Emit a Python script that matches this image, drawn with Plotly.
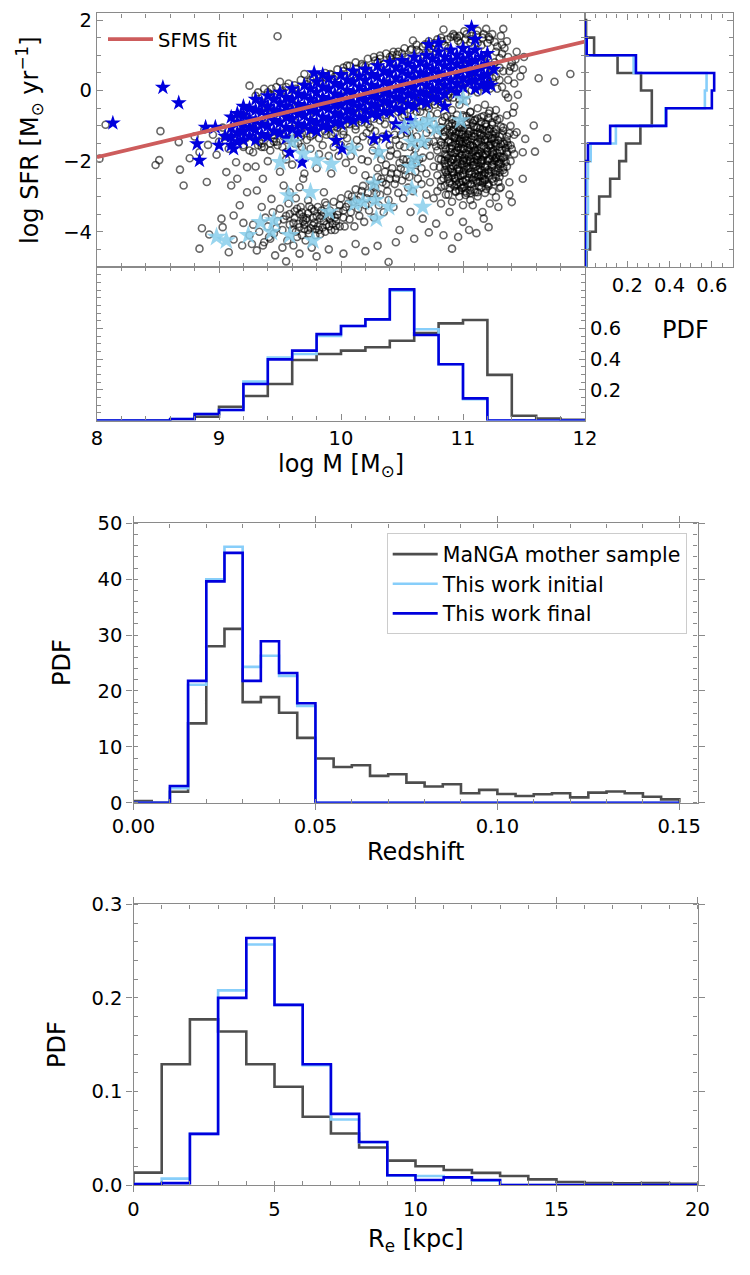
import plotly.graph_objects as go

# ======================= DATA =======================
# --- log SFR histogram (right panel), 0.5 dex bins from -5 to 2 ---
sfr_edges = [-5.0, -4.5, -4.0, -3.5, -3.0, -2.5, -2.0, -1.5, -1.0, -0.5, 0.0, 0.5, 1.0, 1.5, 2.0]
sfr_pdf_mother = [0.008, 0.024, 0.051, 0.067, 0.119, 0.162, 0.194, 0.262, 0.316, 0.316, 0.265, 0.154, 0.043, 0.005]
sfr_pdf_initial = [0.005, 0.011, 0.008, 0.014, 0.011, 0.014, 0.027, 0.146, 0.380, 0.567, 0.575, 0.230, 0.008, 0.0]
sfr_pdf_final = [0.0, 0.0, 0.0, 0.0, 0.0, 0.0, 0.014, 0.119, 0.384, 0.600, 0.611, 0.241, 0.008, 0.0]

# --- log M histogram, 0.2 dex bins from 8 to 12 ---
mass_edges = [8.0, 8.2, 8.4, 8.6, 8.8, 9.0, 9.2, 9.4, 9.6, 9.8, 10.0,
              10.2, 10.4, 10.6, 10.8, 11.0, 11.2, 11.4, 11.6, 11.8, 12.0]
mass_pdf_mother = [0.0, 0.0, 0.002, 0.008, 0.025, 0.090, 0.160, 0.238, 0.394, 0.433,
                   0.455, 0.477, 0.520, 0.570, 0.633, 0.655, 0.297, 0.031, 0.012, 0.005]
mass_pdf_initial = [0.0, 0.0, 0.0, 0.010, 0.042, 0.068, 0.253, 0.410, 0.433, 0.550,
                    0.616, 0.659, 0.846, 0.594, 0.366, 0.138, 0.0, 0.0, 0.0, 0.0]
mass_pdf_final = [0.0, 0.0, 0.0, 0.010, 0.042, 0.068, 0.238, 0.398, 0.455, 0.563,
                  0.616, 0.659, 0.854, 0.557, 0.366, 0.144, 0.0, 0.0, 0.0, 0.0]

# --- redshift histogram, 0.005 bins from 0 to 0.15 ---
z_edges = [0.000, 0.005, 0.010, 0.015, 0.020, 0.025, 0.030, 0.035, 0.040, 0.045, 0.050,
           0.055, 0.060, 0.065, 0.070, 0.075, 0.080, 0.085, 0.090, 0.095, 0.100,
           0.105, 0.110, 0.115, 0.120, 0.125, 0.130, 0.135, 0.140, 0.145, 0.150]
z_pdf_mother = [0.3, 0.0, 1.97, 14.2, 28.0, 31.1, 18.0, 18.9, 16.1, 11.6,
                7.9, 6.4, 6.7, 4.8, 5.1, 3.6, 2.9, 3.3, 1.7, 2.3,
                1.55, 1.2, 1.5, 1.7, 0.95, 1.8, 2.0, 1.7, 1.07, 0.6]
z_pdf_initial = [0.0, 0.0, 2.6, 21.1, 40.0, 45.8, 24.3, 26.3, 22.7, 17.3,
                 0, 0, 0, 0, 0, 0, 0, 0, 0, 0, 0, 0, 0, 0, 0, 0, 0, 0, 0, 0]
z_pdf_final = [0.0, 0.0, 3.0, 21.8, 39.6, 44.7, 21.8, 28.9, 23.2, 17.8,
               0, 0, 0, 0, 0, 0, 0, 0, 0, 0, 0, 0, 0, 0, 0, 0, 0, 0, 0, 0]

# --- effective radius histogram, 1 kpc bins from 0 to 20 ---
re_edges = [0, 1, 2, 3, 4, 5, 6, 7, 8, 9, 10, 11, 12, 13, 14, 15, 16, 17, 18, 19, 20]
re_pdf_mother = [0.0132, 0.129, 0.177, 0.164, 0.129, 0.105, 0.073, 0.055, 0.040, 0.026,
                 0.020, 0.016, 0.013, 0.0096, 0.006, 0.0032, 0.002, 0.0018, 0.002, 0.0014]
re_pdf_initial = [0.001, 0.0068, 0.0546, 0.208, 0.257, 0.1925, 0.128, 0.070, 0.0457, 0.010,
                  0.0096, 0.008, 0.0046, 0.0, 0.0, 0.0, 0.0, 0.0, 0.0, 0.0]
re_pdf_final = [0.001, 0.002, 0.0546, 0.200, 0.264, 0.1925, 0.129, 0.076, 0.046, 0.0104,
                0.0054, 0.0082, 0.0054, 0.0, 0.0, 0.0, 0.0, 0.0, 0.0, 0.0]

# --- SFMS fit (end points) ---
sfms_logm = [8.0, 12.0]
sfms_logsfr = [-1.89, 1.39]

# --- MaNGA mother sample (log M, log SFR) ---
mother_sparse = [
    (8.07, -0.97), (8.02, -1.93), (8.52, -1.15), (8.48, -2.11), (8.51, -1.97), (8.68, -2.24), (8.71, -2.69),
    (8.76, -1.92), (8.67, -1.46), (8.84, -1.75), (8.90, -2.59), (8.91, -1.54), (8.98, -1.82), (9.06, -2.31),
    (9.10, -2.69), (9.14, -2.03), (9.23, -2.17), (9.25, 0.14), (9.43, 0.05), (9.50, 0.25), (9.35, -0.33),
    (9.70, 0.47), (9.48, 1.54), (11.88, 0.47), (11.75, 0.25), (11.62, 0.35), (11.49, 0.59), (11.58, -0.99),
    (11.69, -1.35), (11.59, -1.73), (11.49, -1.75), (11.44, -1.18), (11.41, -0.63), (11.45, -0.12),
    (11.51, -1.37), (11.33, 1.75), (11.31, 1.55), (11.19, 1.75), (10.84, 1.73), (10.95, 1.50), (10.59, 1.42),
    (10.43, 1.10), (10.32, 0.99), (10.25, 0.66), (10.05, 0.71), (9.91, 0.47), (10.39, -4.86), (10.91, -4.48),
    (10.96, -4.15), (11.11, -4.04), (11.21, -3.87), (11.17, -3.63), (11.29, -3.30), (11.40, -3.16),
    (11.38, -2.95), (11.27, -3.02), (11.49, -2.50), (11.38, -2.60), (11.30, -2.77), (8.86, -3.90),
    (8.92, -4.08), (8.84, -4.48), (9.02, -3.63), (9.03, -3.87), (9.12, -3.54), (9.17, -3.25), (9.20, -3.75),
    (9.12, -4.22), (9.08, -4.58), (9.19, -4.39), (9.27, -4.35), (9.31, -4.53), (9.36, -4.39), (9.42, -4.20),
    (9.46, -4.67), (9.55, -4.84), (9.66, -4.62), (9.61, -4.39), (9.50, -3.35), (9.43, -3.07), (9.36, -2.50),
    (9.31, -2.83), (9.23, -2.88), (9.15, -2.50), (9.53, -2.69), (9.58, -2.88), (9.66, -2.74), (9.69, -2.50),
    (9.73, -3.11), (9.86, -2.88), (9.20, -1.55), (9.05, -1.30), (10.67, -3.63), (10.78, -3.77), (10.57, -3.44),
    (10.89, -3.44), (11.00, -3.72), (11.08, -3.25), (11.16, -3.44), (11.22, -3.20), (10.72, -4.02),
    (10.60, -4.20), (10.48, -3.95), (10.45, -4.30), (10.84, -4.10), (11.05, -3.95), (10.30, -4.40),
    (10.20, -4.55), (10.12, -4.35), (10.02, -4.62), (9.90, -4.50), (9.80, -4.70), (9.76, -4.45),
]
mother_lower = [
    (9.62, -3.60), (9.65, -3.78), (9.68, -3.45), (9.70, -3.92), (9.72, -3.62), (9.74, -4.05), (9.76, -3.35),
    (9.78, -3.75), (9.80, -3.55), (9.82, -3.95), (9.84, -3.40), (9.86, -3.70), (9.88, -3.25), (9.90, -3.85),
    (9.92, -3.55), (9.94, -3.15), (9.96, -3.70), (9.98, -3.42), (10.00, -3.05), (10.02, -3.60), (10.04, -3.30),
    (10.06, -2.95), (10.08, -3.45), (10.10, -3.15), (10.12, -2.80), (10.14, -3.35), (10.16, -3.00),
    (10.18, -2.70), (10.20, -3.25), (10.22, -2.90), (10.24, -2.55), (10.26, -3.10), (10.28, -2.75),
    (10.30, -2.45), (10.32, -2.95), (10.34, -2.60), (10.36, -2.30), (10.38, -2.85), (10.40, -2.50),
    (10.42, -2.20), (10.44, -2.65), (10.46, -2.35), (10.48, -2.05), (10.50, -2.55), (10.52, -2.25),
    (10.54, -1.95), (10.56, -2.45), (10.58, -2.10), (10.60, -1.85), (9.60, -3.95), (9.64, -4.15),
    (9.67, -3.30), (9.71, -4.25), (9.75, -3.90), (9.79, -4.10), (9.83, -3.62), (9.87, -4.00), (9.91, -3.40),
    (9.95, -3.95), (9.99, -3.25), (10.03, -3.85), (10.07, -3.65), (10.11, -3.85), (10.15, -3.55),
    (10.19, -3.72), (10.23, -3.40), (10.27, -3.60), (10.31, -3.25), (10.35, -3.45), (10.39, -3.10),
    (10.43, -3.30), (10.47, -2.90), (10.51, -3.05), (10.55, -2.75), (10.59, -2.85), (10.63, -2.50),
    (10.66, -2.65), (9.55, -3.55), (9.58, -3.80), (9.52, -3.95), (9.48, -3.70), (9.45, -4.05), (9.40, -3.85),
    (9.38, -3.60), (9.33, -4.00), (9.28, -3.80), (9.25, -4.10), (9.35, -3.30), (9.44, -3.45), (9.57, -3.20),
    (9.63, -3.05), (9.69, -3.70), (9.73, -3.48), (9.77, -3.82), (9.81, -3.30), (9.85, -3.88), (9.89, -3.58),
    (9.93, -3.78), (9.97, -3.52),
    (9.61, -3.75), (9.66, -3.50), (9.70, -3.80), (9.73, -3.95), (9.77, -3.60), (9.81, -3.85), (9.84, -3.55),
    (9.88, -3.80), (9.92, -3.95), (9.95, -3.60), (9.99, -3.85), (10.02, -3.40), (10.06, -3.20), (10.09, -3.00),
    (10.13, -3.10), (10.17, -2.85), (10.21, -3.05), (10.25, -2.70), (10.29, -2.90), (10.33, -2.50),
    (10.37, -2.65), (10.41, -2.35), (10.45, -2.50), (10.49, -2.20), (10.53, -2.40), (10.57, -2.00),
    (10.61, -2.30), (10.64, -1.95), (9.64, -3.35), (9.58, -3.50), (9.53, -3.65), (9.47, -3.90), (9.41, -4.15),
    (9.37, -4.30), (9.56, -4.25), (9.52, -4.45), (9.63, -4.00), (9.68, -4.10),
    (9.71, -3.67), (9.79, -3.93), (9.74, -3.28), (9.86, -3.47), (9.83, -4.07), (9.66, -3.87), (9.91, -3.63),
    (9.78, -3.41), (9.69, -3.58), (9.96, -3.83), (9.87, -3.17), (9.62, -3.42),
]
mother_valley = [
    (9.95, -1.20), (10.00, -1.55), (10.05, -1.35), (10.08, -1.85), (10.12, -1.10), (10.15, -1.60),
    (10.18, -1.30), (10.22, -2.00), (10.25, -1.45), (10.28, -1.15), (10.31, -1.75), (10.34, -1.30),
    (10.37, -2.10), (10.40, -1.55), (10.43, -1.00), (10.46, -1.80), (10.49, -1.25), (10.52, -1.60),
    (10.55, -0.85), (10.58, -1.35), (10.61, -1.65), (10.64, -1.05), (10.67, -1.90), (10.70, -1.20),
    (10.73, -0.70), (10.10, -2.25), (10.20, -2.40), (10.30, -2.20), (10.45, -1.40), (10.60, -0.95),
    (9.85, -1.55), (9.90, -1.85), (9.80, -2.20), (9.75, -1.65), (9.70, -2.35), (9.65, -1.50), (9.60, -2.10),
    (9.55, -1.75), (9.50, -2.30), (9.45, -1.45), (9.40, -2.00), (9.35, -1.60), (9.30, -2.15),
    (9.20, -1.60), (9.28, -1.75), (9.35, -1.50), (9.42, -1.70), (9.48, -1.55), (9.55, -1.95), (9.62, -1.35),
    (9.68, -1.60), (9.75, -1.30), (9.82, -1.80), (9.88, -1.25), (9.94, -1.60), (10.36, -0.95), (10.50, -0.75),
    (10.65, -0.60), (10.24, -1.05), (10.40, -1.85), (10.56, -1.15),
    (10.02, -1.25), (10.07, -1.60), (10.13, -1.40), (10.17, -1.95), (10.21, -1.20), (10.26, -1.70),
    (10.29, -1.40), (10.33, -1.95), (10.38, -1.25), (10.41, -1.70), (10.44, -1.25), (10.48, -1.55),
    (10.51, -1.95), (10.54, -1.20), (10.57, -1.60), (10.62, -1.30), (10.65, -1.50), (10.68, -0.85),
    (10.72, -1.45), (10.66, -2.20), (10.62, -2.05), (9.98, -1.85), (10.04, -2.05), (9.92, -2.35),
]
mother_ms = [
    (9.30, -0.15), (9.40, -0.05), (9.55, 0.10), (9.62, -0.10), (9.75, 0.30), (9.85, 0.20), (9.95, 0.40),
    (10.02, 0.55), (10.10, 0.45), (10.18, 0.70), (10.22, 0.55), (10.28, 0.85), (10.35, 0.75), (10.40, 0.95),
    (10.45, 0.80), (10.50, 1.05), (10.55, 0.90), (10.62, 1.15), (10.68, 1.00), (10.72, 1.25), (10.78, 1.10),
    (10.83, 1.40), (10.88, 1.20), (10.93, 1.55), (10.98, 1.35), (11.03, 1.60), (11.07, 1.45), (11.12, 1.70),
    (11.16, 1.50), (11.20, 1.35), (11.24, 1.60), (11.28, 1.25), (11.32, 1.05), (11.36, 1.40), (11.40, 0.80),
    (11.44, 1.10), (11.47, 0.40), (11.50, 0.95), (11.42, 0.20), (11.38, 0.55), (11.35, -0.10), (11.30, 0.30),
    (11.26, 0.80), (11.22, 0.05), (11.18, 1.00),
    (9.10, -1.20), (9.15, -0.85), (9.22, -1.35), (9.28, -1.05), (9.33, -1.45), (9.38, -0.95), (9.44, -1.25),
    (9.50, -1.05), (9.56, -1.40), (9.62, -0.90), (9.68, -1.20), (9.74, -0.75), (9.80, -1.05), (9.86, -0.85),
    (9.92, -0.95), (9.98, -0.65), (10.04, -0.95), (10.10, -0.55), (10.16, -0.80), (10.22, -0.40),
    (10.28, -0.65), (10.34, -0.35), (10.40, -0.55), (10.46, -0.25), (10.52, -0.40), (10.58, -0.10),
    (10.64, -0.30), (10.70, 0.05), (10.76, -0.15), (10.82, 0.15), (10.88, -0.10), (10.94, 0.30), (11.00, 0.10),
    (11.06, 0.45), (11.12, 0.20), (11.18, 0.55), (11.24, 0.35), (11.30, 0.65),
    (9.20, -0.70), (9.40, -0.50), (9.60, -0.35), (9.80, -0.20), (10.00, 0.00), (10.20, 0.10), (10.40, 0.30),
    (10.60, 0.45), (10.80, 0.65), (11.00, 0.85), (11.20, 0.95), (9.50, -0.80), (9.90, -0.45), (10.30, -0.15),
    (10.70, 0.35), (11.10, 0.75),
    (8.95, -1.25), (9.00, -1.45), (9.03, -1.05), (9.08, -1.65), (9.12, -1.40), (9.18, -1.15), (9.25, -1.70),
    (9.30, -1.25), (8.88, -1.10), (8.80, -1.30),
    (10.41, 0.88), (10.46, 1.02), (10.53, 0.95), (10.58, 1.18), (10.64, 1.08), (10.69, 1.31), (10.74, 1.19),
    (10.79, 1.45), (10.85, 1.28), (10.90, 1.52), (10.96, 1.41), (11.01, 1.68), (11.06, 1.36), (11.11, 1.58),
    (11.15, 1.28), (11.21, 1.52), (11.26, 1.38), (11.30, 0.92), (11.34, 1.20), (11.39, 0.68), (11.43, 0.88),
    (11.37, 0.30), (11.33, 0.55), (11.28, 0.05), (11.24, 0.62), (11.19, 0.30), (10.30, 0.80), (10.20, 0.68),
    (10.12, 0.62), (10.03, 0.42), (9.94, 0.32), (9.83, 0.28), (9.72, 0.18), (9.63, 0.05), (9.52, -0.05),
    (9.45, -0.18),
    (9.45, -1.35), (9.53, -1.30), (9.60, -1.22), (9.67, -1.10), (9.78, -1.10), (9.88, -1.02), (9.97, -0.95),
    (10.06, -0.82), (10.15, -0.68), (10.26, -0.58), (10.37, -0.45), (10.48, -0.38), (10.56, -0.28),
    (10.66, -0.15), (10.75, -0.05), (10.84, 0.02), (10.92, 0.12), (11.02, 0.25), (11.10, 0.35),
]
# main-sequence envelope: log M column -> log SFR values (upper and lower edge)
mother_ms_edges = {
    9.32: [-0.05, -1.55], 9.37: [0.05, -1.60], 9.42: [-0.10, -1.50], 9.47: [0.10, -1.45], 9.52: [0.00, -1.60],
    9.57: [0.20, -1.35], 9.62: [0.15, -1.50], 9.67: [0.30, -1.30], 9.72: [0.25, -1.40], 9.77: [0.40, -1.25],
    9.82: [0.35, -1.35], 9.87: [0.50, -1.15], 9.92: [0.45, -1.25], 9.97: [0.60, -1.05], 10.02: [0.65, -1.15],
    10.07: [0.70, -0.95], 10.12: [0.80, -1.00], 10.17: [0.75, -0.90], 10.22: [0.90, -0.95], 10.27: [0.95, -0.80],
    10.32: [0.90, -0.85], 10.37: [1.05, -0.70], 10.42: [1.00, -0.80], 10.47: [1.10, -0.60], 10.52: [1.20, -0.70],
    10.57: [1.15, -0.55], 10.62: [1.30, -0.60], 10.67: [1.25, -0.45], 10.72: [1.40, -0.50], 10.77: [1.35, -0.40],
    10.82: [1.50, -0.30], 10.87: [1.45, -0.35], 10.92: [1.60, -0.20], 10.97: [1.55, -0.25], 11.02: [1.45, -0.10],
    11.07: [1.55, 0.00], 11.12: [1.35, -0.05], 11.17: [1.60, 0.10], 11.22: [1.45, 0.25], 11.27: [1.10, 0.40],
    11.32: [1.30, 0.10], 11.37: [0.95, -0.20], 11.42: [0.65, -0.45],
}
# quenched cloud outer part: log M column -> list of log SFR values
mother_quenched = {
    10.70: [-0.45, -1.55, -2.35, -2.95],
    10.73: [-1.10, -1.85, -2.60],
    10.76: [-0.30, -0.95, -1.45, -2.15, -3.05],
    10.79: [-0.65, -1.25, -1.70, -2.40, -2.85],
    10.82: [-0.40, -1.05, -1.55, -1.95, -2.55, -3.20],
    10.85: [-0.75, -1.30, -1.80, -2.25, -2.70],
    10.88: [-0.20, -0.95, -1.45, -2.05, -2.45, -2.95],
    10.91: [-0.55, -1.15, -1.65, -1.95, -2.30, -2.65, -3.15],
    10.94: [-0.85, -1.35, -1.75, -2.10, -2.50, -2.85],
    10.97: [-0.40, -1.05, -1.50, -1.90, -2.25, -2.60, -3.00],
    11.00: [-0.70, -1.25, -1.65, -2.00, -2.40, -2.75, -3.25],
    11.03: [-0.30, -0.95, -1.40, -1.80, -2.15, -2.55, -2.90],
    11.06: [-0.60, -1.15, -1.55, -1.95, -2.30, -2.65, -3.10],
    11.09: [-0.85, -1.30, -1.70, -2.10, -2.45, -2.80],
    11.12: [-0.50, -1.05, -1.45, -1.85, -2.25, -2.60, -3.00],
    11.15: [-0.75, -1.25, -1.60, -2.00, -2.40, -2.75],
    11.18: [-0.40, -0.95, -1.40, -1.80, -2.15, -2.55, -2.90],
    11.21: [-0.65, -1.15, -1.55, -1.95, -2.35, -2.70],
    11.24: [-0.90, -1.35, -1.75, -2.10, -2.50, -2.85],
    11.27: [-0.55, -1.10, -1.50, -1.90, -2.30],
    11.30: [-0.80, -1.30, -1.70, -2.05, -2.45],
    11.33: [-1.05, -1.50, -1.90, -2.25],
    11.36: [-0.70, -1.30, -1.75, -2.15],
    11.39: [-1.00, -1.55, -2.00],
    11.42: [-1.25, -1.80],
}
# quenched cloud dense core (log M, log SFR)
mother_core = [
    (10.92, -1.12), (11.07, -1.83), (11.21, -1.27), (10.98, -2.41), (11.15, -0.88), (10.86, -1.66), (11.29, -2.08),
    (11.03, -1.49), (10.94, -2.87), (11.18, -2.33), (11.11, -1.04), (10.81, -2.17), (11.25, -1.71), (11.00, -0.74),
    (11.36, -1.44), (10.89, -2.62), (11.13, -2.71), (10.96, -1.95), (11.22, -0.57), (11.05, -2.19), (10.84, -1.31),
    (11.31, -1.02), (11.09, -1.61), (10.91, -0.93), (11.17, -1.58), (11.02, -2.96), (11.27, -2.47), (10.99, -1.23),
    (11.12, -2.04), (10.87, -2.38), (11.34, -1.88), (11.06, -0.61), (10.93, -1.77), (11.20, -2.12), (11.08, -2.53),
    (10.78, -1.58), (11.24, -0.97), (11.01, -1.66), (11.14, -1.37), (10.95, -2.22), (11.30, -1.59), (10.83, -0.86),
    (11.10, -2.88), (11.19, -1.81), (10.97, -1.42), (11.04, -1.08), (11.26, -2.26), (10.90, -2.03), (11.16, -2.49),
    (11.38, -1.21), (10.88, -1.41), (11.23, -1.52), (11.00, -2.58), (11.11, -1.86), (10.82, -2.73), (11.28, -0.83),
    (11.07, -2.37), (10.95, -0.69), (11.18, -1.15), (11.03, -2.05), (10.91, -1.57), (11.33, -2.18), (11.14, -2.22),
    (10.85, -1.98), (11.21, -2.64), (10.99, -1.83), (11.09, -1.22), (11.26, -1.34), (10.93, -2.48), (11.05, -1.69),
    (11.17, -0.72), (10.80, -1.12), (11.31, -1.96), (11.12, -1.68), (10.97, -2.29), (11.24, -2.01), (11.02, -1.31),
    (10.87, -1.85), (11.15, -2.07), (11.08, -0.92), (10.94, -1.51), (11.35, -1.63), (11.20, -1.43), (11.06, -2.83),
    (10.89, -1.19), (11.28, -1.77), (11.00, -1.98), (11.13, -1.52), (10.84, -2.49), (11.22, -1.93), (11.04, -2.63),
    (10.96, -1.04), (11.19, -2.79), (11.10, -2.35), (10.92, -2.14), (11.30, -2.32), (11.16, -1.97), (10.98, -1.66),
    (11.07, -1.38), (11.25, -1.17), (10.86, -2.95), (11.12, -0.79), (11.01, -2.25), (11.36, -1.79), (10.90, -1.74),
    (11.18, -2.18), (11.05, -1.87), (10.95, -2.66), (11.23, -1.63), (11.14, -1.21), (10.82, -1.46), (11.32, -1.26),
    (11.09, -2.02), (10.99, -2.09), (11.27, -1.92), (11.03, -0.89), (10.88, -2.28), (11.21, -2.41), (11.11, -2.56),
    (10.93, -1.34), (11.17, -1.29), (11.06, -1.54), (10.85, -1.17), (11.29, -2.59), (11.00, -1.44), (11.15, -1.74),
    (10.97, -2.83), (11.24, -2.16), (11.08, -1.74), (10.91, -2.41), (11.34, -1.51), (11.19, -0.94), (11.02, -1.76),
    (10.80, -1.93), (11.26, -1.48), (11.13, -2.41), (10.96, -1.61), (11.40, -1.66), (11.05, -2.47), (10.89, -1.02),
    (11.20, -1.71), (11.10, -1.31), (10.94, -1.89), (11.31, -2.09), (11.16, -2.61), (11.04, -1.24), (10.86, -2.14),
    (11.22, -1.09), (11.01, -2.73), (11.12, -1.97), (10.98, -1.37), (11.27, -2.37),
    (10.87, -0.72), (11.24, -1.86), (11.02, -2.52), (10.93, -1.28), (11.31, -2.74), (11.15, -1.45), (10.99, -0.97),
    (11.08, -2.12), (10.86, -2.31), (11.19, -1.02), (11.27, -1.58), (10.95, -2.03), (11.12, -2.88), (11.04, -1.63),
    (10.90, -1.47), (11.33, -1.14), (11.21, -2.25), (10.98, -2.68), (11.10, -0.83), (10.88, -1.92), (11.16, -1.83),
    (11.05, -1.16), (10.94, -2.57), (11.28, -2.01), (11.01, -1.91), (11.13, -2.30), (10.91, -0.81), (11.23, -1.38),
    (11.07, -2.66), (10.97, -1.19), (11.35, -2.02), (11.18, -2.52), (10.85, -1.55), (11.11, -1.49), (11.00, -2.36),
    (11.26, -0.75), (10.92, -1.95), (11.14, -1.08), (11.06, -2.00), (10.96, -2.44), (11.29, -1.41), (11.20, -1.99),
    (10.89, -2.76), (11.03, -0.72), (11.17, -2.40), (10.99, -1.52), (11.09, -1.92), (11.25, -2.58), (10.94, -0.98),
    (11.32, -1.70), (11.12, -1.18), (11.01, -2.12), (10.87, -1.08), (11.22, -1.56), (11.06, -2.91), (10.97, -1.78),
    (11.15, -2.26), (11.27, -1.22), (10.90, -2.21), (11.04, -1.43), (11.19, -1.65), (10.93, -2.72), (11.09, -1.03),
    (11.30, -1.86), (11.00, -1.12), (11.13, -1.79), (10.86, -1.82), (11.23, -2.30), (11.07, -1.28), (10.96, -2.18),
    (11.34, -2.33), (11.18, -1.38), (11.02, -2.85), (10.91, -1.29), (11.11, -2.15), (11.26, -1.97), (10.98, -1.05),
    (11.16, -1.10), (11.05, -2.34), (10.88, -2.50), (11.21, -0.78), (11.08, -1.57), (10.95, -1.70), (11.29, -2.21),
    (11.14, -2.58), (11.03, -1.98), (10.92, -2.33), (11.24, -1.24), (11.10, -1.71), (10.99, -2.76), (11.37, -1.55),
    (11.17, -1.86), (10.85, -2.07), (11.06, -0.82), (11.20, -2.66), (10.97, -1.45), (11.12, -2.45), (11.31, -1.52),
    (11.01, -1.35), (10.89, -1.63), (11.25, -1.80), (11.15, -1.96), (11.04, -2.21), (10.94, -1.22),
]

# --- This work final (blue stars): log M column -> list of log SFR values ---
final_cols = {
    9.10: [-0.75, -1.05, -1.30, -1.55],
    9.15: [-0.65, -0.90, -1.20, -1.45],
    9.20: [-0.45, -0.70, -0.95, -1.15, -1.40],
    9.25: [-0.50, -0.80, -1.05, -1.30],
    9.30: [-0.25, -0.55, -0.85, -1.10, -1.40],
    9.35: [-0.35, -0.60, -0.95, -1.25],
    9.40: [-0.15, -0.45, -0.70, -1.00, -1.30],
    9.45: [-0.25, -0.55, -0.85, -1.15],
    9.50: [-0.05, -0.35, -0.60, -0.90, -1.20],
    9.55: [-0.20, -0.45, -0.75, -1.05, -1.35],
    9.60: [0.05, -0.25, -0.55, -0.80, -1.10],
    9.65: [-0.10, -0.40, -0.65, -0.95, -1.20],
    9.70: [0.15, -0.15, -0.45, -0.70, -1.00],
    9.75: [0.05, -0.25, -0.55, -0.85, -1.10],
    9.80: [0.25, -0.05, -0.35, -0.60, -0.90, -1.15],
    9.85: [0.10, -0.20, -0.45, -0.75, -1.00],
    9.90: [0.35, 0.05, -0.25, -0.50, -0.80, -1.05],
    9.95: [0.20, -0.10, -0.40, -0.65, -0.90],
    10.00: [0.45, 0.15, -0.15, -0.40, -0.70, -0.95],
    10.05: [0.30, 0.00, -0.30, -0.55, -0.80],
    10.10: [0.55, 0.25, -0.05, -0.35, -0.60, -0.85],
    10.15: [0.40, 0.10, -0.20, -0.45, -0.75],
    10.20: [0.60, 0.30, 0.00, -0.25, -0.55, -0.80],
    10.25: [0.45, 0.15, -0.15, -0.40, -0.65],
    10.30: [0.70, 0.40, 0.10, -0.20, -0.45, -0.70],
    10.35: [0.55, 0.25, -0.05, -0.30, -0.60],
    10.40: [0.80, 0.50, 0.20, -0.10, -0.35, -0.60],
    10.45: [0.65, 0.35, 0.05, -0.20, -0.50],
    10.50: [0.85, 0.55, 0.25, 0.00, -0.25, -0.55],
    10.55: [0.75, 0.45, 0.15, -0.10, -0.40],
    10.60: [0.95, 0.65, 0.35, 0.10, -0.15, -0.45],
    10.65: [0.80, 0.50, 0.25, -0.05, -0.30],
    10.70: [1.00, 0.70, 0.45, 0.15, -0.10, -0.35],
    10.75: [0.90, 0.60, 0.35, 0.05, -0.20],
    10.80: [1.10, 0.80, 0.50, 0.25, 0.00, -0.25],
    10.85: [0.95, 0.70, 0.40, 0.15, -0.10],
    10.90: [1.15, 0.85, 0.60, 0.30, 0.05],
    10.95: [1.00, 0.75, 0.45, 0.20, -0.05],
    11.00: [1.20, 0.90, 0.65, 0.35, 0.10],
    11.05: [1.05, 0.80, 0.50, 0.25],
    11.10: [1.15, 0.85, 0.55, 0.30, 0.05],
    11.15: [0.95, 0.65, 0.40, 0.15],
    11.20: [1.05, 0.75, 0.45, 0.20],
}
final_sparse = [
    (8.54, 0.09), (8.67, -0.35), (8.13, -0.92), (8.84, -1.98), (8.82, -1.51), (8.89, -1.04), (8.97, -1.04),
    (9.58, -1.75), (9.68, -2.03), (9.96, -1.42), (10.01, -1.65), (10.27, -1.37), (10.37, -1.32),
    (10.51, -1.08), (11.19, 0.05), (11.23, 0.15), (11.07, 1.79), (10.72, 1.30), (10.80, 1.35), (11.10, 1.45),
    (9.85, 0.45), (9.78, 0.50), (11.25, 0.60), (9.05, -1.30), (9.12, -1.65), (9.00, -1.55), (10.57, -0.85),
    (10.85, -0.45), (10.45, -0.95),
]

# --- This work initial only (light-blue stars) ---
initial_only = [
    (8.98, -4.15), (9.06, -4.25), (9.24, -4.10), (9.34, -3.73), (9.45, -3.68), (9.43, -4.01), (9.58, -4.10),
    (9.77, -4.25), (9.90, -3.44), (9.57, -2.97), (9.75, -2.88), (9.50, -2.03), (9.69, -1.79), (9.80, -1.98),
    (9.92, -2.08), (10.09, -1.65), (10.31, -1.75), (10.27, -2.64), (10.11, -3.21), (10.18, -3.16),
    (10.28, -3.11), (10.39, -3.30), (10.29, -3.63), (10.58, -2.78), (10.57, -2.17), (10.61, -1.93),
    (10.67, -1.46), (10.58, -1.46), (10.52, -1.04), (10.61, -0.94), (10.67, -0.99), (10.72, -0.85),
    (10.78, -1.08), (10.98, -0.85), (11.00, -0.24), (9.60, -1.46), (10.67, -3.30),
]

# ======================= STYLE =======================
W, H = 750, 1275
FONT = "DejaVu Sans"
C_MOTHER = "#4d4d4d"
C_INIT = "#87cefa"
C_FINAL = "#0000dd"
C_SFMS = "#cd5c5c"
SPINE = "#8a8a8a"
TICK_SIZE = 19.5
LABEL_SIZE = 24
LW = 2.6


def px_x(p):
    return p / W


def px_y(p):
    return 1 - p / H


def step_xy(edges, vals):
    xs = [edges[0]] + list(edges)
    ys = [0] + list(vals) + [0]
    return xs, ys


# flatten point data
m_x, m_y = [], []
for (a, b) in mother_sparse + mother_lower + mother_valley + mother_ms + mother_core:
    m_x.append(a); m_y.append(b)
for d in (mother_ms_edges, mother_quenched):
    for a, ss in d.items():
        for b in ss:
            m_x.append(a); m_y.append(b)

f_x, f_y = [], []
for a, ss in final_cols.items():
    for b in ss:
        f_x.append(a); f_y.append(b)
for (a, b) in final_sparse:
    f_x.append(a); f_y.append(b)

i_x = [p[0] for p in initial_only]
i_y = [p[1] for p in initial_only]

fig = go.Figure()

# ---- scatter panel ----
fig.add_trace(go.Scatter(x=m_x, y=m_y, mode="markers", xaxis="x", yaxis="y", showlegend=False,
                         name="MaNGA mother sample", hoverinfo="skip",
                         marker=dict(symbol="circle-open", size=7, color="rgba(0,0,0,0.6)",
                                     line=dict(width=1.6))))
fig.add_trace(go.Scatter(x=f_x, y=f_y, mode="markers", xaxis="x", yaxis="y", showlegend=False,
                         name="This work final", hoverinfo="skip",
                         marker=dict(symbol="star", size=12, color=C_FINAL, line=dict(width=0))))
fig.add_trace(go.Scatter(x=i_x, y=i_y, mode="markers", xaxis="x", yaxis="y", showlegend=False,
                         name="This work initial", hoverinfo="skip",
                         marker=dict(symbol="star", size=15, color="rgba(135,206,235,0.85)",
                                     line=dict(width=0))))
fig.add_trace(go.Scatter(x=sfms_logm, y=sfms_logsfr, mode="lines", xaxis="x", yaxis="y",
                         name="SFMS fit", legend="legend2", showlegend=True,
                         line=dict(color=C_SFMS, width=3.8)))

series = [("MaNGA mother sample", C_MOTHER, "g1"),
          ("This work initial", C_INIT, "g2"),
          ("This work final", C_FINAL, "g3")]

# ---- right SFR histogram ----
for (name, col, grp), vals in zip(series, [sfr_pdf_mother, sfr_pdf_initial, sfr_pdf_final]):
    ys, xs = step_xy(sfr_edges, vals)
    fig.add_trace(go.Scatter(x=xs, y=ys, mode="lines", line_shape="vh", xaxis="x2", yaxis="y2",
                             name=name, legendgroup=grp, showlegend=False,
                             line=dict(color=col, width=LW)))

# ---- mass histogram ----
for (name, col, grp), vals in zip(series, [mass_pdf_mother, mass_pdf_initial, mass_pdf_final]):
    xs, ys = step_xy(mass_edges, vals)
    fig.add_trace(go.Scatter(x=xs, y=ys, mode="lines", line_shape="hv", xaxis="x3", yaxis="y3",
                             name=name, legendgroup=grp, showlegend=False,
                             line=dict(color=col, width=LW)))

# ---- redshift histogram ----
for (name, col, grp), vals in zip(series, [z_pdf_mother, z_pdf_initial, z_pdf_final]):
    xs, ys = step_xy(z_edges, vals)
    fig.add_trace(go.Scatter(x=xs, y=ys, mode="lines", line_shape="hv", xaxis="x4", yaxis="y4",
                             name=name, legendgroup=grp, showlegend=True, legend="legend",
                             line=dict(color=col, width=LW)))

# ---- Re histogram ----
for (name, col, grp), vals in zip(series, [re_pdf_mother, re_pdf_initial, re_pdf_final]):
    xs, ys = step_xy(re_edges, vals)
    fig.add_trace(go.Scatter(x=xs, y=ys, mode="lines", line_shape="hv", xaxis="x5", yaxis="y5",
                             name=name, legendgroup=grp, showlegend=False,
                             line=dict(color=col, width=LW)))


def ax(domain, rng, anchor, ticks="inside", minor_dtick=None, minor_ticks="inside", **kw):
    d = dict(domain=domain, range=rng, anchor=anchor, showline=True, linecolor=SPINE, linewidth=1.4,
             mirror="allticks", ticks=ticks, ticklen=6, tickwidth=1.2, tickcolor=SPINE,
             showgrid=False, zeroline=False, fixedrange=True, automargin=False,
             tickfont=dict(size=TICK_SIZE, color="#000000", family=FONT))
    if minor_dtick is not None:
        d["minor"] = dict(dtick=minor_dtick, ticks=minor_ticks, ticklen=4, tickwidth=1,
                          tickcolor=SPINE, showgrid=False)
    d.update(kw)
    return d


top_y = [px_y(267), px_y(13.3)]
left_x = [px_x(97), px_x(585)]
right_x = [px_x(585), px_x(733)]
mass_y = [px_y(420.5), px_y(267)]
bot_x = [px_x(133.5), px_x(697.5)]
z_y = [px_y(802.7), px_y(523.3)]
re_y = [px_y(1185), px_y(904.3)]

fig.update_layout(
    width=W, height=H, margin=dict(l=0, r=0, t=0, b=0, pad=0), autosize=False,
    paper_bgcolor="white", plot_bgcolor="white",
    font=dict(family=FONT, size=TICK_SIZE, color="#000000"),
    xaxis=ax(left_x, [8, 12], "y", dtick=1, tick0=8, minor_dtick=0.2, showticklabels=False),
    yaxis=ax(top_y, [-5, 2.19], "x", dtick=2, tick0=0, minor_dtick=0.5),
    xaxis2=ax(right_x, [0, 0.7], "y2", tickmode="array", tickvals=[0.2, 0.4, 0.6],
              ticktext=["0.2", "0.4", "0.6"], minor_dtick=0.05),
    yaxis2=ax(top_y, [-5, 2.19], "x2", dtick=2, tick0=0, minor_dtick=0.5, showticklabels=False),
    xaxis3=ax(left_x, [8, 12], "y3", dtick=1, tick0=8, minor_dtick=0.2),
    yaxis3=ax(mass_y, [0, 1.0], "x3", side="right", tickmode="array", tickvals=[0.2, 0.4, 0.6],
              ticktext=["0.2", "0.4", "0.6"], minor_dtick=0.05),
    xaxis4=ax(bot_x, [0, 0.155], "y4", ticks="outside", dtick=0.05, tick0=0, tickformat=".2f",
              minor_dtick=0.01),
    yaxis4=ax(z_y, [0, 50], "x4", ticks="outside", dtick=10, tick0=0, minor_dtick=2),
    xaxis5=ax(bot_x, [0, 20], "y5", ticks="outside", dtick=5, tick0=0, minor_dtick=1),
    yaxis5=ax(re_y, [0, 0.3], "x5", ticks="outside", dtick=0.1, tick0=0, tickformat=".1f",
              minor_dtick=0.02),
    legend=dict(x=px_x(686.7), xanchor="right", y=px_y(533.3), yanchor="top",
                bgcolor="rgba(255,255,255,0.85)", bordercolor="#cccccc", borderwidth=1,
                font=dict(family=FONT, size=20.5, color="#000000"), tracegroupgap=0, itemwidth=45),
    legend2=dict(x=px_x(103), xanchor="left", y=px_y(20), yanchor="top",
                 bgcolor="rgba(0,0,0,0)", borderwidth=0,
                 font=dict(family=FONT, size=19.5, color="#000000"), itemwidth=45),
)

annots = [
    dict(text="log SFR [M<sub>⊙</sub> yr<sup>−1</sup>]", x=px_x(29), y=px_y(140), textangle=-90),
    dict(text="log M [M<sub>⊙</sub>]", x=px_x(341), y=px_y(465)),
    dict(text="PDF", x=px_x(685), y=px_y(330)),
    dict(text="Redshift", x=px_x(415.5), y=px_y(852)),
    dict(text="PDF", x=px_x(62), y=px_y(663), textangle=-90),
    dict(text="R<sub>e</sub> [kpc]", x=px_x(415.5), y=px_y(1240)),
    dict(text="PDF", x=px_x(57), y=px_y(1045), textangle=-90),
]
for a in annots:
    fig.add_annotation(xref="paper", yref="paper", showarrow=False, xanchor="center", yanchor="middle",
                       font=dict(family=FONT, size=LABEL_SIZE, color="#000000"), **a)

fig.write_html("out.html")
